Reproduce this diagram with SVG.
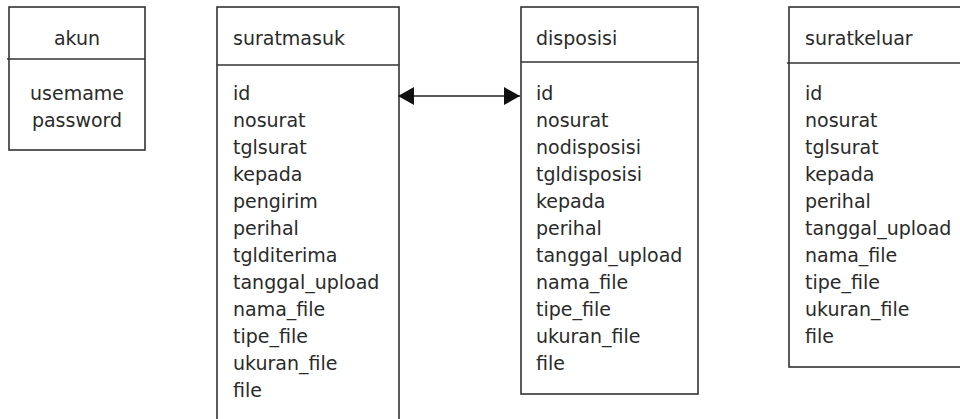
<svg xmlns="http://www.w3.org/2000/svg" width="960" height="419" viewBox="0 0 960 419">
<style>
.box{fill:#fff;stroke:#333;stroke-width:1.6}
.div{stroke:#333;stroke-width:1.6}
text{font-family:"DejaVu Sans","Liberation Sans",sans-serif;font-size:19px;fill:#2a2a2a}
.c{text-anchor:middle}
.conn{stroke:#222;stroke-width:1.6;fill:none}
</style>
<defs>
<marker id="ah" viewBox="0 0 16 18" refX="16" refY="9" markerWidth="16" markerHeight="18" markerUnits="userSpaceOnUse" orient="auto-start-reverse">
<path d="M0,0 L16,9 L0,18 Z" fill="#111"/>
</marker>
</defs>
<rect width="960" height="419" fill="#fff"/>
<g id="akun">
<rect class="box" x="9" y="7" width="136" height="143"/>
<line class="div" x1="7" y1="59" x2="145" y2="59"/>
<text class="c" x="77" y="45">akun</text>
<text class="c" x="77" y="100">usemame</text>
<text class="c" x="77" y="127">password</text>
</g>
<g id="suratmasuk">
<rect class="box" x="217" y="7" width="182" height="420"/>
<line class="div" x1="217" y1="65" x2="399" y2="65"/>
<text x="233" y="45">suratmasuk</text>
<text x="233" y="100">id</text>
<text x="233" y="127">nosurat</text>
<text x="233" y="154">tglsurat</text>
<text x="233" y="181">kepada</text>
<text x="233" y="208">pengirim</text>
<text x="233" y="235">perihal</text>
<text x="233" y="262">tglditerima</text>
<text x="233" y="289">tanggal_upload</text>
<text x="233" y="316">nama_file</text>
<text x="233" y="343">tipe_file</text>
<text x="233" y="370">ukuran_file</text>
<text x="233" y="397">file</text>
</g>
<g id="disposisi">
<rect class="box" x="521" y="7" width="177" height="387"/>
<line class="div" x1="521" y1="62" x2="698" y2="62"/>
<text x="536" y="45">disposisi</text>
<text x="536" y="100">id</text>
<text x="536" y="127">nosurat</text>
<text x="536" y="154">nodisposisi</text>
<text x="536" y="181">tgldisposisi</text>
<text x="536" y="208">kepada</text>
<text x="536" y="235">perihal</text>
<text x="536" y="262">tanggal_upload</text>
<text x="536" y="289">nama_file</text>
<text x="536" y="316">tipe_file</text>
<text x="536" y="343">ukuran_file</text>
<text x="536" y="370">file</text>
</g>
<g id="suratkeluar">
<rect class="box" x="789" y="7" width="190" height="360"/>
<line class="div" x1="787" y1="63" x2="970" y2="63"/>
<text x="805" y="45">suratkeluar</text>
<text x="805" y="100">id</text>
<text x="805" y="127">nosurat</text>
<text x="805" y="154">tglsurat</text>
<text x="805" y="181">kepada</text>
<text x="805" y="208">perihal</text>
<text x="805" y="235">tanggal_upload</text>
<text x="805" y="262">nama_file</text>
<text x="805" y="289">tipe_file</text>
<text x="805" y="316">ukuran_file</text>
<text x="805" y="343">file</text>
</g>
<g id="connectors">
<line class="conn" x1="398" y1="96" x2="520" y2="96" marker-start="url(#ah)" marker-end="url(#ah)"/>
</g>
</svg>
